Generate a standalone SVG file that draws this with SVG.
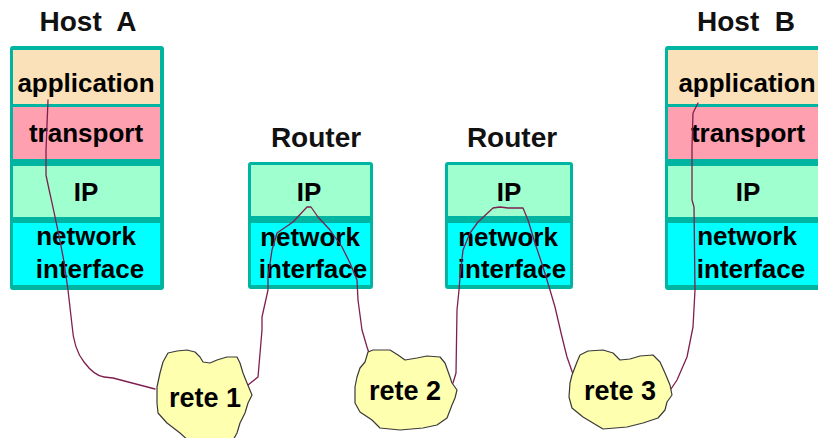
<svg xmlns="http://www.w3.org/2000/svg" width="818" height="438" viewBox="0 0 818 438">
  <style>
    .frame { fill: #00B4A2; }
    .app { fill: #FBE1B9; }
    .tra { fill: #FFA0B0; }
    .ip { fill: #A0FFCF; }
    .ni { fill: #00FFFF; }
    .ttl { font: bold 28px "Liberation Sans", Arial, sans-serif; fill: #111; text-anchor: middle; }
    .lbl { font: bold 26px "Liberation Sans", Arial, sans-serif; fill: #000; text-anchor: middle; }
    .net { font: bold 27px "Liberation Sans", Arial, sans-serif; fill: #000; text-anchor: middle; }
    .cloud { fill: #FFFFB0; stroke: #3A3A3A; stroke-width: 1.2; stroke-linejoin: round; }
    .wire { fill: none; stroke: #7F1F4F; stroke-width: 1.3; stroke-linejoin: round; stroke-linecap: round; }
  </style>

  <!-- Host A: full protocol stack -->
  <g id="hostA">
    <text class="ttl" x="88" y="31" xml:space="preserve">Host  A</text>
    <rect class="frame" x="10" y="46" width="154" height="244" rx="3"/>
    <rect class="app" x="13" y="50" width="147" height="54"/>
    <rect class="tra" x="13" y="107" width="147" height="52"/>
    <rect class="ip" x="13" y="166" width="147" height="51"/>
    <rect class="ni" x="13" y="223" width="147" height="62"/>
    <text class="lbl" x="86" y="92">application</text>
    <text class="lbl" x="86" y="142">transport</text>
    <text class="lbl" x="86" y="201">IP</text>
    <text class="lbl" x="86" y="245">network</text>
    <text class="lbl" x="90" y="278">interface</text>
  </g>

  <!-- Router 1 -->
  <g id="router1">
    <text class="ttl" x="316" y="147">Router</text>
    <rect class="frame" x="248" y="162" width="125" height="127" rx="3"/>
    <rect class="ip" x="251" y="165" width="119" height="51"/>
    <rect class="ni" x="251" y="223" width="119" height="62"/>
    <text class="lbl" x="309" y="201">IP</text>
    <text class="lbl" x="310" y="246">network</text>
    <text class="lbl" x="313" y="278">interface</text>
  </g>

  <!-- Router 2 -->
  <g id="router2">
    <text class="ttl" x="512" y="147">Router</text>
    <rect class="frame" x="445" y="162" width="128" height="127" rx="3"/>
    <rect class="ip" x="448" y="165" width="122" height="51"/>
    <rect class="ni" x="448" y="223" width="122" height="62"/>
    <text class="lbl" x="509" y="201">IP</text>
    <text class="lbl" x="508" y="246">network</text>
    <text class="lbl" x="512" y="278">interface</text>
  </g>

  <!-- Host B: full protocol stack (runs past the right edge) -->
  <g id="hostB">
    <text class="ttl" x="746" y="31" xml:space="preserve">Host  B</text>
    <rect class="frame" x="665" y="46" width="160" height="244" rx="3"/>
    <rect class="app" x="668" y="50" width="157" height="54"/>
    <rect class="tra" x="668" y="107" width="157" height="52"/>
    <rect class="ip" x="668" y="166" width="157" height="51"/>
    <rect class="ni" x="668" y="223" width="157" height="62"/>
    <text class="lbl" x="747" y="92">application</text>
    <text class="lbl" x="748" y="142">transport</text>
    <text class="lbl" x="748" y="201">IP</text>
    <text class="lbl" x="747" y="245">network</text>
    <text class="lbl" x="751" y="278">interface</text>
  </g>

  <!-- path of the data through the stacks and networks -->
  <g id="connectors">
    <path class="wire" d="M48,100 L46,150 L46,175 C50,195 58,228 64,262 L68,290 L72,325 C73,340 76,352 84,362 C90,370 96,376 104,377 L113,378 L155,389"/>
    <path class="wire" d="M248,385 L258,377 L262,330 L262,317 L268,290 L268,277 L272,250 L277,233 L293,222 L307,207 L311,207 L318,217 L330,230 L342,247 L350,263 L357,280 L358,300 L362,330 L367,347 L369,353"/>
    <path class="wire" d="M453,383 L456,373 L457,310 L459,290 L460,277 L463,250 L470,233 L478,222 L493,208 L500,207 L508,208 L523,208 L528,220 L535,243 L543,267 L550,290 L555,307 L562,337 L567,357 L574,377"/>
    <path class="wire" d="M671,389 L677,380 L687,357 L693,327 L695,290 L694,207 L692,200 L692,147 L693,113 L698,103"/>
  </g>

  <!-- networks -->
  <g id="rete1">
    <path class="cloud" d="M157,387 L160,373 L163,362 L168,353 L177,351 L187,350 L195,352 L200,357 L203,362 L210,363 L217,360 L227,357 L237,357 L240,363 L243,373 L247,383 L252,395 L248,403 L245,413 L240,423 L237,433 L232,442 L190,442 L180,433 L167,423 L158,413 L157,403 Z"/>
    <text class="net" x="205" y="407">rete 1</text>
  </g>
  <g id="rete2">
    <path class="cloud" d="M368,352 L373,350 L390,350 L398,355 L405,360 L417,358 L427,356 L440,357 L445,363 L450,377 L452,383 L457,390 L455,398 L452,405 L447,418 L437,425 L423,428 L400,430 L380,428 L372,420 L360,412 L355,403 L355,387 L357,377 L360,368 L365,362 Z"/>
    <text class="net" x="405" y="400">rete 2</text>
  </g>
  <g id="rete3">
    <path class="cloud" d="M580,355 L588,351 L603,350 L613,353 L620,360 L630,359 L640,356 L653,355 L660,362 L665,373 L670,385 L672,395 L667,402 L665,410 L658,418 L643,423 L627,427 L603,429 L593,423 L583,417 L572,408 L569,397 L570,383 L572,375 L577,362 Z"/>
    <text class="net" x="620" y="400">rete 3</text>
  </g>
</svg>
